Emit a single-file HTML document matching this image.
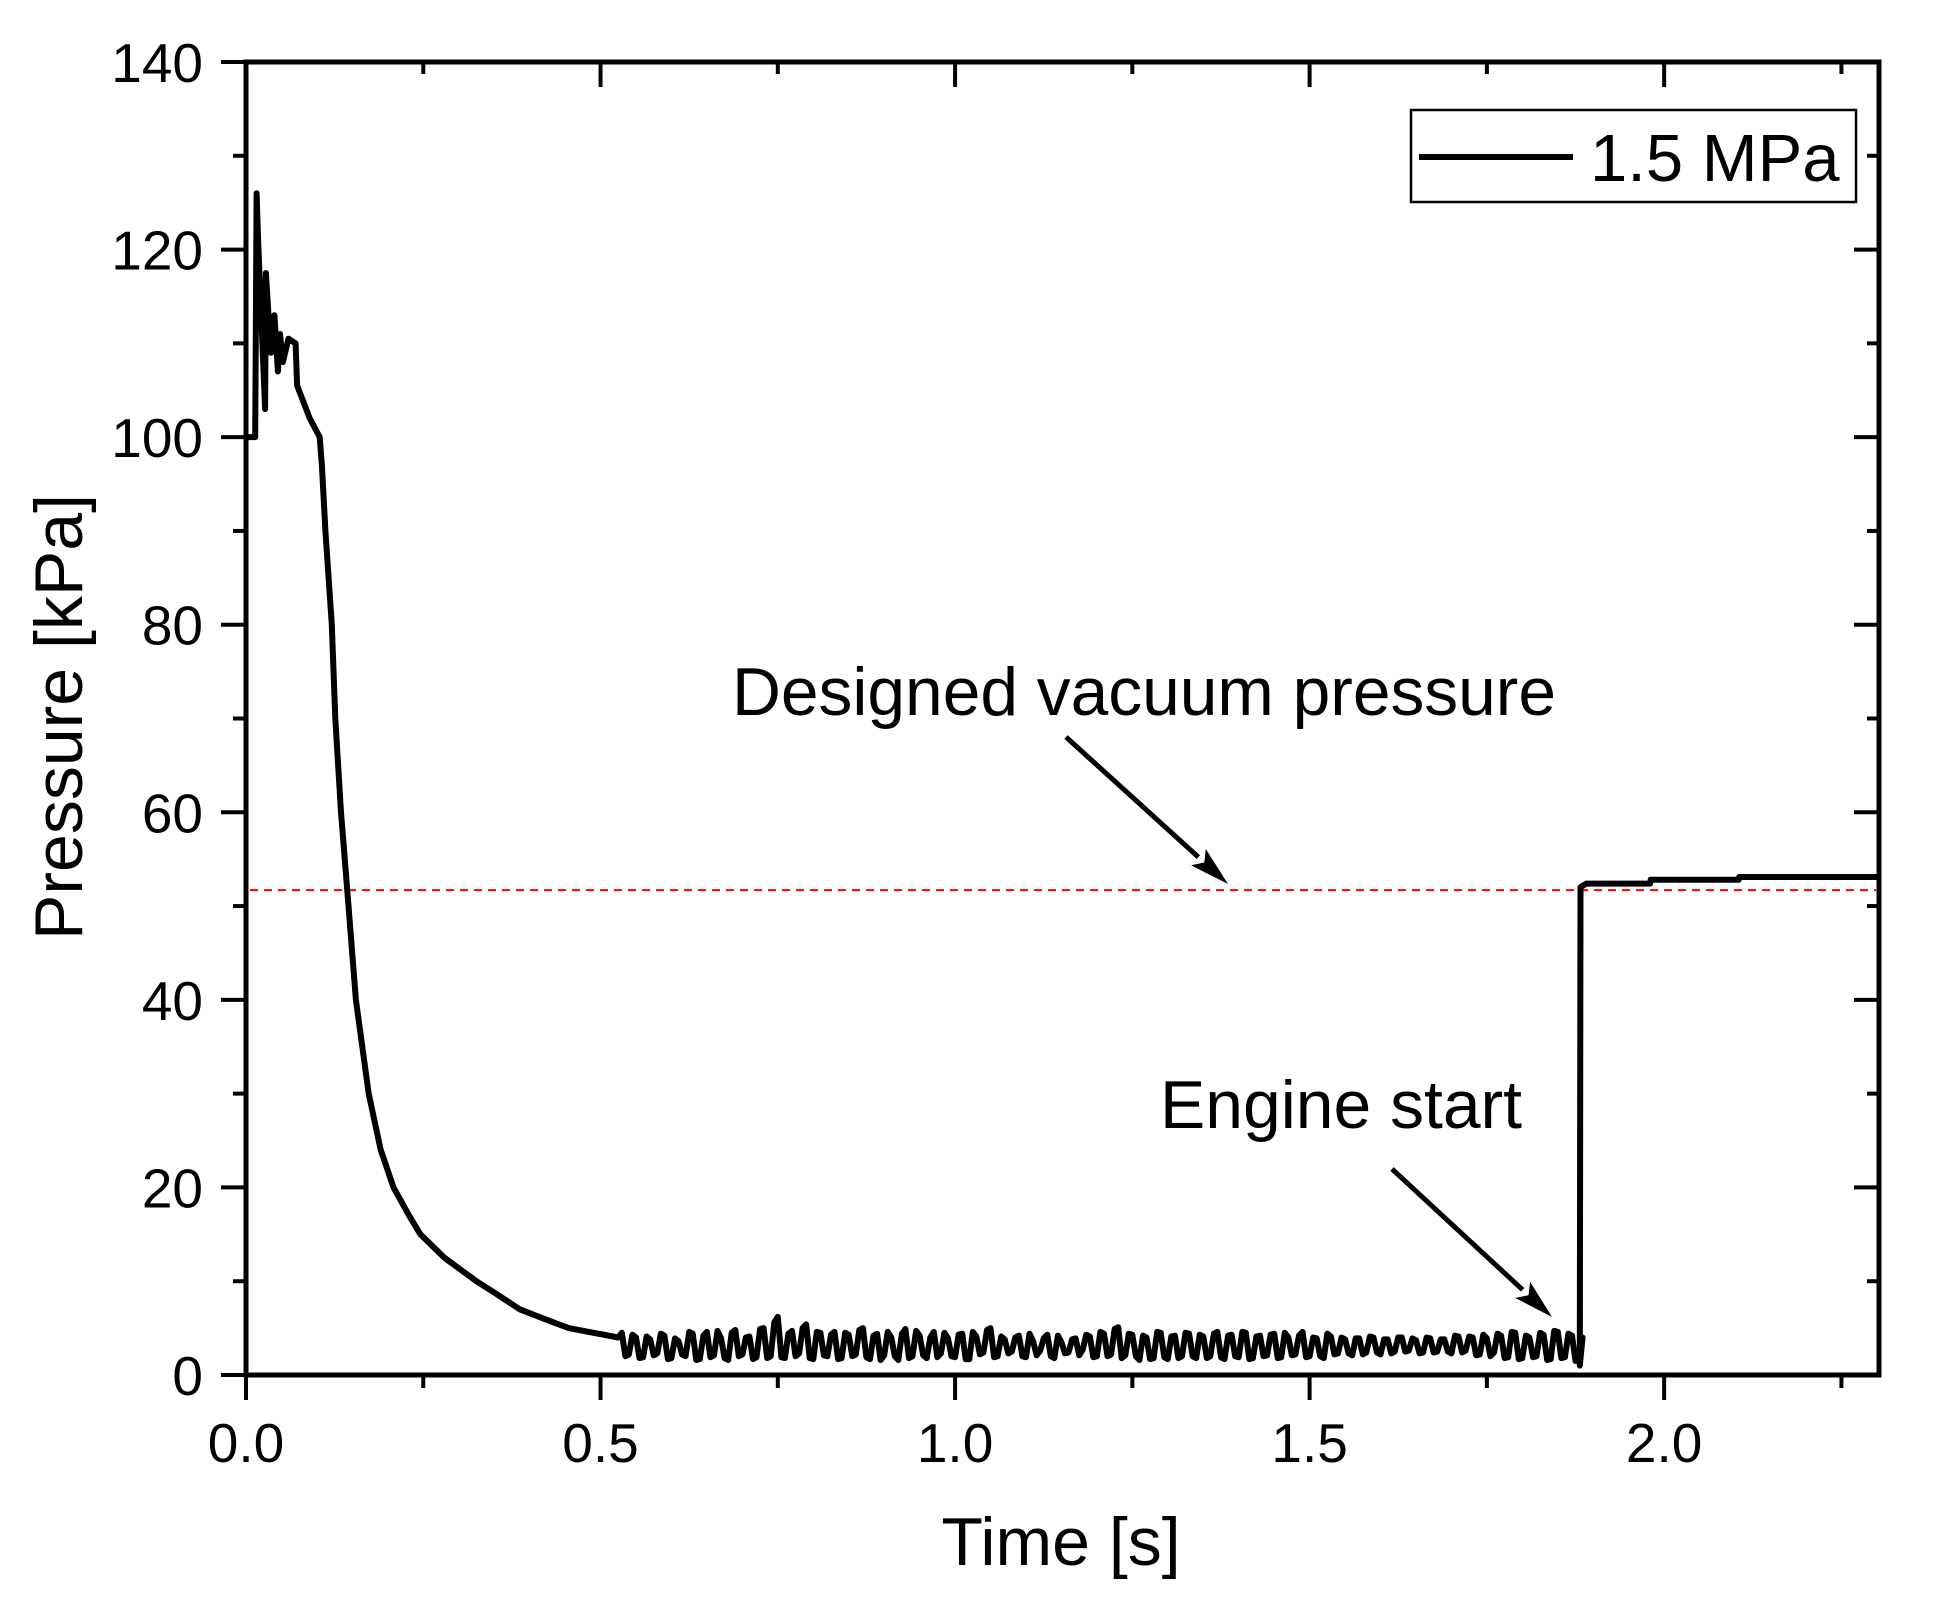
<!DOCTYPE html>
<html><head><meta charset="utf-8"><style>
html,body{margin:0;padding:0;background:#fff;}
svg{display:block;font-family:"Liberation Sans",Arial,sans-serif;}
</style></head><body>
<svg id="chart" width="1942" height="1604" viewBox="0 0 1942 1604" xmlns="http://www.w3.org/2000/svg">
<rect width="1942" height="1604" fill="#fff"/>
<g id="ticks"></g>
<g id="series"></g>
<rect x="246" y="62" width="1633" height="1313" fill="none" stroke="#000" stroke-width="5"/>
<g>
<rect x="1411" y="110" width="445" height="92" fill="#fff" stroke="#000" stroke-width="2.5"/>
<line x1="1419" y1="157" x2="1573" y2="157" stroke="#000" stroke-width="6"/>
<text x="1590" y="181" font-size="67">1.5 MPa</text>
</g>
<text x="732" y="715" font-size="68" textLength="824" lengthAdjust="spacingAndGlyphs">Designed vacuum pressure</text>
<text x="1160" y="1128" font-size="68" textLength="362" lengthAdjust="spacingAndGlyphs">Engine start</text>
<text x="1061" y="1565" font-size="68" text-anchor="middle">Time [s]</text>
<text transform="translate(82,717) rotate(-90)" font-size="68" text-anchor="middle">Pressure [kPa]</text>
</svg>
<script>
const earlyT = [0, 0.013, 0.015, 0.017, 0.027, 0.028, 0.035, 0.040, 0.045, 0.048, 0.052, 0.060, 0.070, 0.072, 0.090, 0.104, 0.107, 0.112, 0.121, 0.126, 0.134, 0.143, 0.155, 0.173, 0.19, 0.208, 0.23, 0.246, 0.28, 0.325, 0.35, 0.386, 0.42, 0.455, 0.525];
const earlyP = [100, 100, 126, 121, 103, 117.5, 109, 113, 107, 111, 108, 110.5, 110, 105.5, 102, 100, 97, 90, 80, 70, 60, 51.5, 40, 30, 24, 20, 17, 15, 12.5, 10, 8.8, 7, 6, 5, 4];
const noiseStart = 0.53;
const noiseStep = 0.01;
const noiseP = [4.5,2.2,4.0,1.9,3.8,2.3,4.2,1.8,3.6,2.0,
4.4,1.7,4.6,2.1,3.9,1.6,4.8,2.2,4.1,1.9,
5.0,2.0,6.2,1.8,4.7,2.3,5.4,1.7,4.5,2.0,
4.6,1.8,4.3,2.2,5.0,1.7,4.4,2.1,4.0,1.6,
4.9,2.0,4.2,1.8,4.6,2.3,3.9,1.9,4.4,1.7,
4.1,2.4,5.0,2.0,3.8,2.5,4.2,1.9,3.6,2.6,
4.3,1.8,3.5,2.4,3.9,2.7,4.1,2.0,4.4,2.2,
5.1,2.1,4.3,1.6,4.0,1.8,4.5,1.7,4.2,2.0,
4.4,1.8,4.1,2.0,4.6,1.7,4.3,1.9,4.5,1.8,
4.2,2.1,4.4,1.9,4.0,2.2,4.6,2.0,3.9,1.8,
4.1,2.3,3.8,2.1,3.9,2.4,4.0,2.2,3.8,2.5,
4.0,2.6,3.7,2.4,3.9,2.5,3.8,2.3,4.1,2.6,
4.0,2.2,3.9,2.4,4.2,1.9,4.5,1.8,4.0,2.0,
4.3,1.7,4.6,1.9,4.2,1.5];
const noiseMid = [2.0,4.3,1.8,4.1,2.1,4.4,1.7,3.9,2.2,4.6,
1.6,4.2,1.9,4.7,1.8,4.5,2.0,4.0,1.7,4.9,
1.8,5.6,1.9,4.4,2.0,5.0,1.8,4.6,2.1,4.3,
1.7,4.5,2.0,4.8,1.9,4.2,1.6,4.6,2.0,4.4,
1.8,4.7,2.1,4.0,1.9,4.5,2.0,4.3,1.7,4.6,
2.2,4.8,1.9,4.1,2.3,4.0,2.0,4.4,2.1,3.9,
2.0,4.2,2.3,3.8,2.1,4.3,1.9,4.6,2.0,4.9,
1.8,4.4,2.0,4.2,1.7,4.6,1.9,4.1,1.8,4.5,
2.0,4.3,1.8,4.4,1.9,4.2,2.0,4.6,1.7,4.1,
2.0,4.3,1.8,4.5,2.1,4.2,1.9,4.0,2.0,4.4,
2.2,4.0,2.3,3.9,2.2,4.1,2.4,3.8,2.3,4.0,
2.5,3.9,2.3,4.0,2.4,3.8,2.5,4.2,2.4,4.1,
2.1,4.3,2.0,4.4,1.8,4.6,1.7,4.2,1.9,4.5,
1.6,4.7,1.8,4.4,1.5,4.0];
const lateT = [1.881, 1.882, 1.89, 1.98, 1.981, 2.105, 2.106, 2.303];
const lateP = [1.0, 52.0, 52.4, 52.4, 52.8, 52.8, 53.1, 53.1];
const designP = 51.7;
const xTickVals = [0, 0.5, 1.0, 1.5, 2.0];
const xTickLabels = ["0.0", "0.5", "1.0", "1.5", "2.0"];
const xMinorVals = [0.25, 0.75, 1.25, 1.75, 2.25];
const yTickVals = [0, 20, 40, 60, 80, 100, 120, 140];
const yTickLabels = ["0", "20", "40", "60", "80", "100", "120", "140"];
const yMinorVals = [10, 30, 50, 70, 90, 110, 130];

const L=246,R=1879,T=62,B=1375,XMAX=2.303,YMAX=140;
const sx=v=>L+v/XMAX*(R-L);
const sy=v=>B-v/YMAX*(B-T);
const NS="http://www.w3.org/2000/svg";
const tg=document.getElementById('ticks');
const sg=document.getElementById('series');
function mk(tag,attrs,parent){const e=document.createElementNS(NS,tag);for(const k in attrs)e.setAttribute(k,attrs[k]);parent.appendChild(e);return e;}

xTickVals.forEach((v,i)=>{
  const x=sx(v);
  let e=mk('line',{x1:x,y1:B,x2:x,y2:B+25,stroke:'#000','stroke-width':4},tg);
  
  
  e=mk('line',{x1:x,y1:T,x2:x,y2:T+25,stroke:'#000','stroke-width':4},tg);
  
  
  const t=mk('text',{x:x,y:1462,'font-size':55,'text-anchor':'middle'},tg);
  t.textContent=xTickLabels[i];
  
  
});
xMinorVals.forEach(v=>{
  const x=sx(v);
  let e=mk('line',{x1:x,y1:B,x2:x,y2:B+13,stroke:'#000','stroke-width':4},tg);
  
  
  e=mk('line',{x1:x,y1:T,x2:x,y2:T+12,stroke:'#000','stroke-width':4},tg);
  
  
});
yTickVals.forEach((v,i)=>{
  const y=sy(v);
  let e=mk('line',{x1:L-25,y1:y,x2:L,y2:y,stroke:'#000','stroke-width':4},tg);
  
  
  e=mk('line',{x1:R-25,y1:y,x2:R,y2:y,stroke:'#000','stroke-width':4},tg);
  
  
  const t=mk('text',{x:203,y:y+20,'font-size':55,'text-anchor':'end'},tg);
  t.textContent=yTickLabels[i];
  
  
});
yMinorVals.forEach(v=>{
  const y=sy(v);
  let e=mk('line',{x1:L-13,y1:y,x2:L,y2:y,stroke:'#000','stroke-width':4},tg);
  
  
  e=mk('line',{x1:R-12,y1:y,x2:R,y2:y,stroke:'#000','stroke-width':4},tg);
  
  
});

const dl=mk('line',{x1:L+4,y1:sy(designP),x2:R-3,y2:sy(designP),stroke:'#ff0000','stroke-width':2,'stroke-dasharray':'8 6'},sg);



const pts=[];
earlyT.forEach((t,i)=>pts.push([sx(t),sy(earlyP[i])]));
noiseP.forEach((p,i)=>{
  pts.push([sx(noiseStart+i*noiseStep),sy(p)]);
  if(i<noiseMid.length) pts.push([sx(noiseStart+i*noiseStep+noiseStep/2),sy(noiseMid[i])]);
});
lateT.forEach((t,i)=>pts.push([sx(t),sy(lateP[i])]));
const pl=mk('polyline',{points:pts.map(p=>p[0].toFixed(1)+','+p[1].toFixed(1)).join(' '),fill:'none',stroke:'#000','stroke-width':6,'stroke-linejoin':'round'},sg);



function arrow(x1,y1,x2,y2,name){
  const g=mk('g',{},sg);
  
  
  const dx=x2-x1,dy=y2-y1,len=Math.hypot(dx,dy),ux=dx/len,uy=dy/len;
  const hl=40,hw=11;
  const bx=x2-ux*hl,by=y2-uy*hl;
  mk('line',{x1:x1,y1:y1,x2:bx,y2:by,stroke:'#000','stroke-width':5},g);
  mk('polygon',{points:`${x2},${y2} ${bx-uy*hw},${by+ux*hw} ${bx+ux*8},${by+uy*8} ${bx+uy*hw},${by-ux*hw}`,fill:'#000'},g);
}
arrow(1066,737,1228,884,'arrow-designed-vacuum');
arrow(1392,1169,1552,1317,'arrow-engine-start');
</script>
</body></html>
